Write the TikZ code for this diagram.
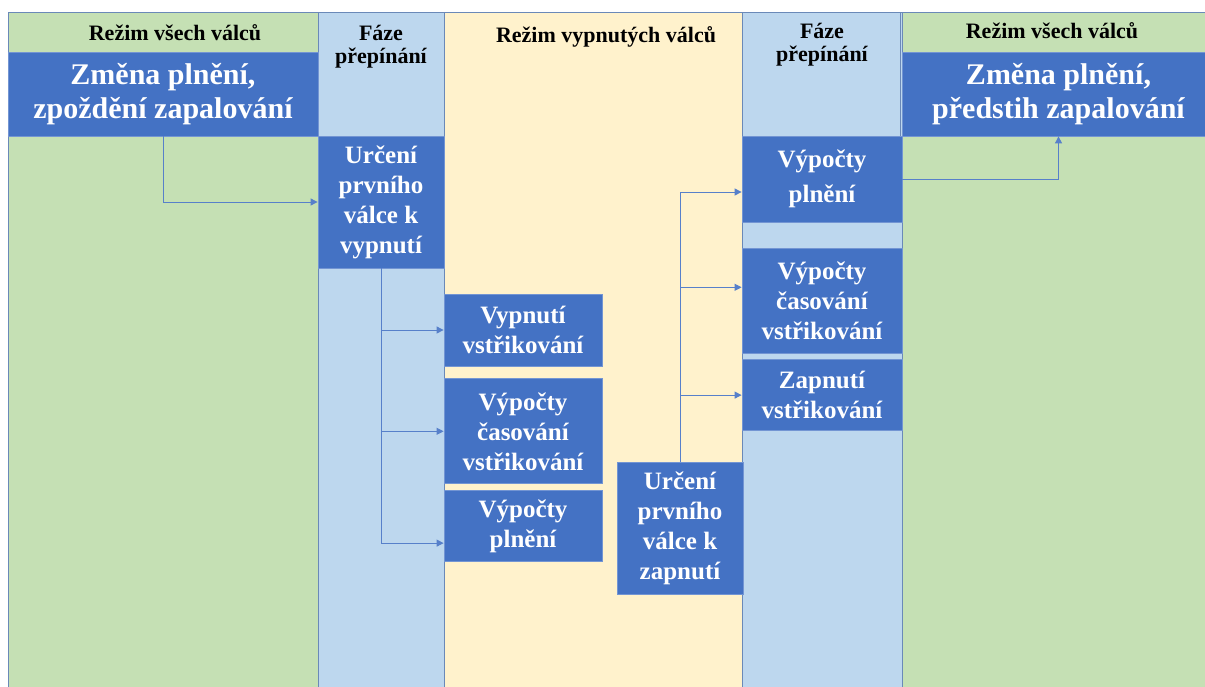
\documentclass[tikz,border=0pt]{standalone}
\usepackage{fontspec}
\setmainfont{Liberation Serif}
\usepackage{tikz}
\usetikzlibrary{arrows.meta, positioning, calc}
\usepackage{xcolor}
\definecolor{allgreen}{HTML}{C5E0B4}
\definecolor{phaseblue}{HTML}{BDD7EE}
\definecolor{offyellow}{HTML}{FFF2CC}
\definecolor{boxblue}{HTML}{4472C4}
\definecolor{rule}{HTML}{6A89B8}
\tikzstyle{stepbox} = [rectangle, fill=boxblue, draw=boxblue!75!white, line width=0.8pt, text=white, align=center, inner sep=0pt, font=\fontsize{25}{30}\selectfont\bfseries]
\tikzstyle{bigbox} = [stepbox, font=\fontsize{30}{34}\selectfont\bfseries]
\tikzstyle{header} = [align=center, text=black, font=\fontsize{22}{23}\selectfont\bfseries]
\tikzstyle{arrow} = [draw=boxblue!90, line width=1pt, -{Triangle[length=7pt,width=7pt]}]

\begin{document}
\begin{tikzpicture}[x=1pt, y=-1pt]
    \useasboundingbox (0,0) rectangle (1205,686);

    % Columns
    \draw[rule, fill=allgreen] (8,12) rectangle (318,690);
    \draw[rule, fill=allgreen] (8,12) rectangle (318,52);
    \draw[rule, fill=phaseblue] (318,12) rectangle (444,690);
    \draw[rule, fill=offyellow] (444,12) rectangle (742,690);
    \draw[rule, fill=phaseblue] (742,12) rectangle (902,690);
    \draw[rule, fill=phaseblue] (742,12) rectangle (900,136);
    \draw[rule, fill=allgreen] (902,12) rectangle (1215,690);
    \draw[rule, fill=allgreen] (902,12) rectangle (1215,52);

    % Headers
    \node[header] (all1) at (175,33) {Režim všech válců};
    \node[header] (phase1) at (381,47) {Fáze\\přepínání};
    \node[header] (off) at (606,37) {Režim vypnutých válců};
    \node[header] (phase2) at (822,45) {Fáze\\přepínání};
    \node[header] (all2) at (1052,31) {Režim všech válců};

    % Switching off
    \node[bigbox, minimum width=310pt, minimum height=84pt] (change1) at (163,94) {Změna plnění,\\zpoždění zapalování};
    \node[stepbox, minimum width=126pt, minimum height=132pt] (first1) at (381,202) {Určení\\prvního\\válce k\\vypnutí};
    \node[stepbox, minimum width=158pt, minimum height=72pt] (inj1) at (523,330) {Vypnutí\\vstřikování};
    \node[stepbox, minimum width=158pt, minimum height=105pt, below=12pt of inj1] (timing1) {Výpočty\\časování\\vstřikování};
    \node[stepbox, minimum width=158pt, minimum height=71pt, below=6pt of timing1] (fill1) {Výpočty\\plnění};

    \draw[arrow] (change1.south) |- (first1.west);
    \draw[arrow] (first1.south) |- (inj1.west);
    \draw[arrow] (first1.south) |- (timing1.west);
    \draw[arrow] (first1.south) |- ([yshift=-17pt]fill1.west);

    % Switching on
    \node[stepbox, minimum width=126pt, minimum height=132pt] (first2) at (680,528) {Určení\\prvního\\válce k\\zapnutí};
    \node[stepbox, minimum width=160pt, minimum height=86pt] (fill2) at (822,179) {Výpočty\\[5pt]plnění};
    \node[stepbox, minimum width=160pt, minimum height=105pt, below=26pt of fill2] (timing2) {Výpočty\\časování\\vstřikování};
    \node[stepbox, minimum width=160pt, minimum height=71pt, below=5pt of timing2] (inj2) {Zapnutí\\vstřikování};
    \node[bigbox, minimum width=313pt, minimum height=84pt] (change2) at (1058.5,94) {Změna plnění,\\předstih zapalování};

    \draw[arrow] (first2.north) |- ([yshift=-13pt]fill2.west);
    \draw[arrow] (first2.north) |- ([yshift=14pt]timing2.west);
    \draw[arrow] (first2.north) |- (inj2.west);
    \draw[arrow] (fill2.east) -| (change2.south);
\end{tikzpicture}
\end{document}
